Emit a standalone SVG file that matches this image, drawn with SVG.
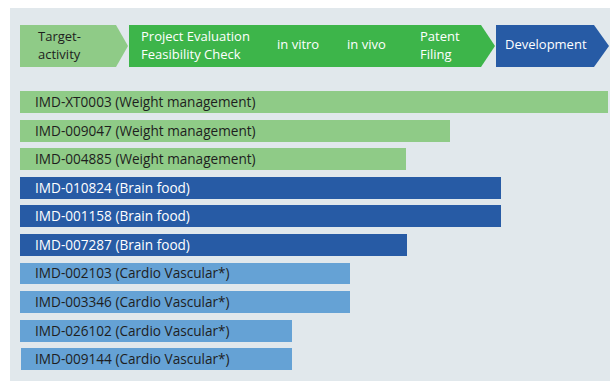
<svg xmlns="http://www.w3.org/2000/svg" width="610" height="381" viewBox="0 0 610 381">
<style>
text{font-family:"Open Sans","Liberation Sans",sans-serif;font-size:13.6px}
#header text{font-size:13px}
.dk{fill:#1e1e1e}
.wt{fill:#ffffff}
.lg{fill:#8fcb87}
.gr{fill:#3db54a}
.db{fill:#275ba5}
.lb{fill:#65a2d5}
</style>
<rect x="10" y="8" width="600" height="373" fill="#e1e8ec"/>
<g id="header">
<g id="stage-target">
<polygon class="lg" points="20,25 116,25 128,46 116,67 20,67"/>
<text class="dk" x="38" y="41.2">Target-</text>
<text class="dk" x="38" y="59.2">activity</text>
</g>
<g id="stage-research">
<polygon class="gr" points="129,25 481,25 495,46 481,67 129,67"/>
<text class="wt" x="141" y="41.2">Project Evaluation</text>
<text class="wt" x="141" y="59.2">Feasibility Check</text>
<text class="wt" x="277" y="49">in vitro</text>
<text class="wt" x="347" y="49">in vivo</text>
<text class="wt" x="420" y="41.2">Patent</text>
<text class="wt" x="420" y="59.2">Filing</text>
</g>
<g id="stage-development">
<polygon class="db" points="496,25 594,25 609,46 594,67 496,67"/>
<text class="wt" x="505" y="49">Development</text>
</g>
</g>
<g id="bars">
<g id="bar1"><rect class="lg" x="20" y="91" width="588" height="22"/><text class="dk" x="35" y="107">IMD-XT0003 (Weight management)</text></g>
<g id="bar2"><rect class="lg" x="20" y="120" width="430" height="22"/><text class="dk" x="35" y="136">IMD-009047 (Weight management)</text></g>
<g id="bar3"><rect class="lg" x="20" y="148" width="386" height="22"/><text class="dk" x="35" y="164">IMD-004885 (Weight management)</text></g>
<g id="bar4"><rect class="db" x="20" y="177" width="481" height="22"/><text class="wt" x="35" y="193">IMD-010824 (Brain food)</text></g>
<g id="bar5"><rect class="db" x="20" y="205" width="481" height="22"/><text class="wt" x="35" y="221">IMD-001158 (Brain food)</text></g>
<g id="bar6"><rect class="db" x="20" y="234" width="387" height="22"/><text class="wt" x="35" y="250">IMD-007287 (Brain food)</text></g>
<g id="bar7"><rect class="lb" x="20" y="263" width="330" height="21"/><text class="dk" x="35" y="278">IMD-002103 (Cardio Vascular*)</text></g>
<g id="bar8"><rect class="lb" x="20" y="291" width="330" height="22"/><text class="dk" x="35" y="307">IMD-003346 (Cardio Vascular*)</text></g>
<g id="bar9"><rect class="lb" x="20" y="320" width="272" height="22"/><text class="dk" x="35" y="336">IMD-026102 (Cardio Vascular*)</text></g>
<g id="bar10"><rect class="lb" x="21" y="348" width="271" height="22"/><text class="dk" x="35" y="364">IMD-009144 (Cardio Vascular*)</text></g>
</g>
</svg>
